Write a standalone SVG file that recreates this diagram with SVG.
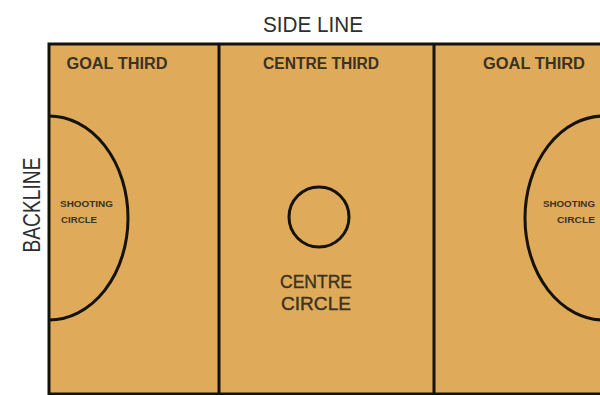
<svg xmlns="http://www.w3.org/2000/svg" width="600" height="395" viewBox="0 0 600 395">
<style>
.line{fill:none;stroke:#151208;stroke-width:3}
.court{fill:#dfab5b;stroke:#151208;stroke-width:3}
.lbl{font-family:"Liberation Sans",Arial,sans-serif;fill:#3a3222;font-weight:bold}
.mid{font-family:"Liberation Sans",Arial,sans-serif;fill:#3a3222;font-weight:normal;stroke:#3a3222;stroke-width:0.4}
.out{font-family:"Liberation Sans",Arial,sans-serif;fill:#2e2e2e}
</style>
<rect width="600" height="395" fill="#ffffff"/>
<g id="court">
<rect x="49" y="44" width="556" height="350" class="court"/>
</g>
<g id="connectors">
<line class="line" x1="219" y1="44" x2="219" y2="394"/>
<line class="line" x1="434" y1="44" x2="434" y2="394"/>
</g>
<g id="left-shooting-circle">
<path class="line" d="M49,116 A79,102 0 0 1 49,320"/>
<text class="lbl" x="60" y="207" font-size="9" textLength="53" lengthAdjust="spacingAndGlyphs">SHOOTING</text>
<text class="lbl" x="61" y="223" font-size="9" textLength="36" lengthAdjust="spacingAndGlyphs">CIRCLE</text>
</g>
<g id="right-shooting-circle">
<path class="line" d="M604,116 A79,102 0 0 0 604,320"/>
<text class="lbl" x="595" y="207" font-size="9" text-anchor="end" textLength="52" lengthAdjust="spacingAndGlyphs">SHOOTING</text>
<text class="lbl" x="595" y="223" font-size="9" text-anchor="end" textLength="38" lengthAdjust="spacingAndGlyphs">CIRCLE</text>
</g>
<g id="centre-circle">
<circle class="line" cx="319" cy="217" r="30" stroke-width="2.5"/>
<text class="mid" x="316" y="288" font-size="19" text-anchor="middle" textLength="72" lengthAdjust="spacingAndGlyphs">CENTRE</text>
<text class="mid" x="316" y="310" font-size="19" text-anchor="middle" textLength="70" lengthAdjust="spacingAndGlyphs">CIRCLE</text>
</g>
<g id="goal-third-left">
<text class="lbl" x="117" y="69" font-size="16" text-anchor="middle" textLength="101" lengthAdjust="spacingAndGlyphs">GOAL THIRD</text>
</g>
<g id="centre-third">
<text class="lbl" x="321" y="69" font-size="16" text-anchor="middle" textLength="116" lengthAdjust="spacingAndGlyphs">CENTRE THIRD</text>
</g>
<g id="goal-third-right">
<text class="lbl" x="534" y="69" font-size="16" text-anchor="middle" textLength="102" lengthAdjust="spacingAndGlyphs">GOAL THIRD</text>
</g>
<g id="side-line">
<text class="out" x="313" y="32" font-size="22" text-anchor="middle" textLength="100" lengthAdjust="spacingAndGlyphs">SIDE LINE</text>
</g>
<g id="backline">
<text class="out" transform="translate(40,205) rotate(-90)" x="0" y="0" font-size="24" text-anchor="middle" textLength="95" lengthAdjust="spacingAndGlyphs">BACKLINE</text>
</g>
</svg>
